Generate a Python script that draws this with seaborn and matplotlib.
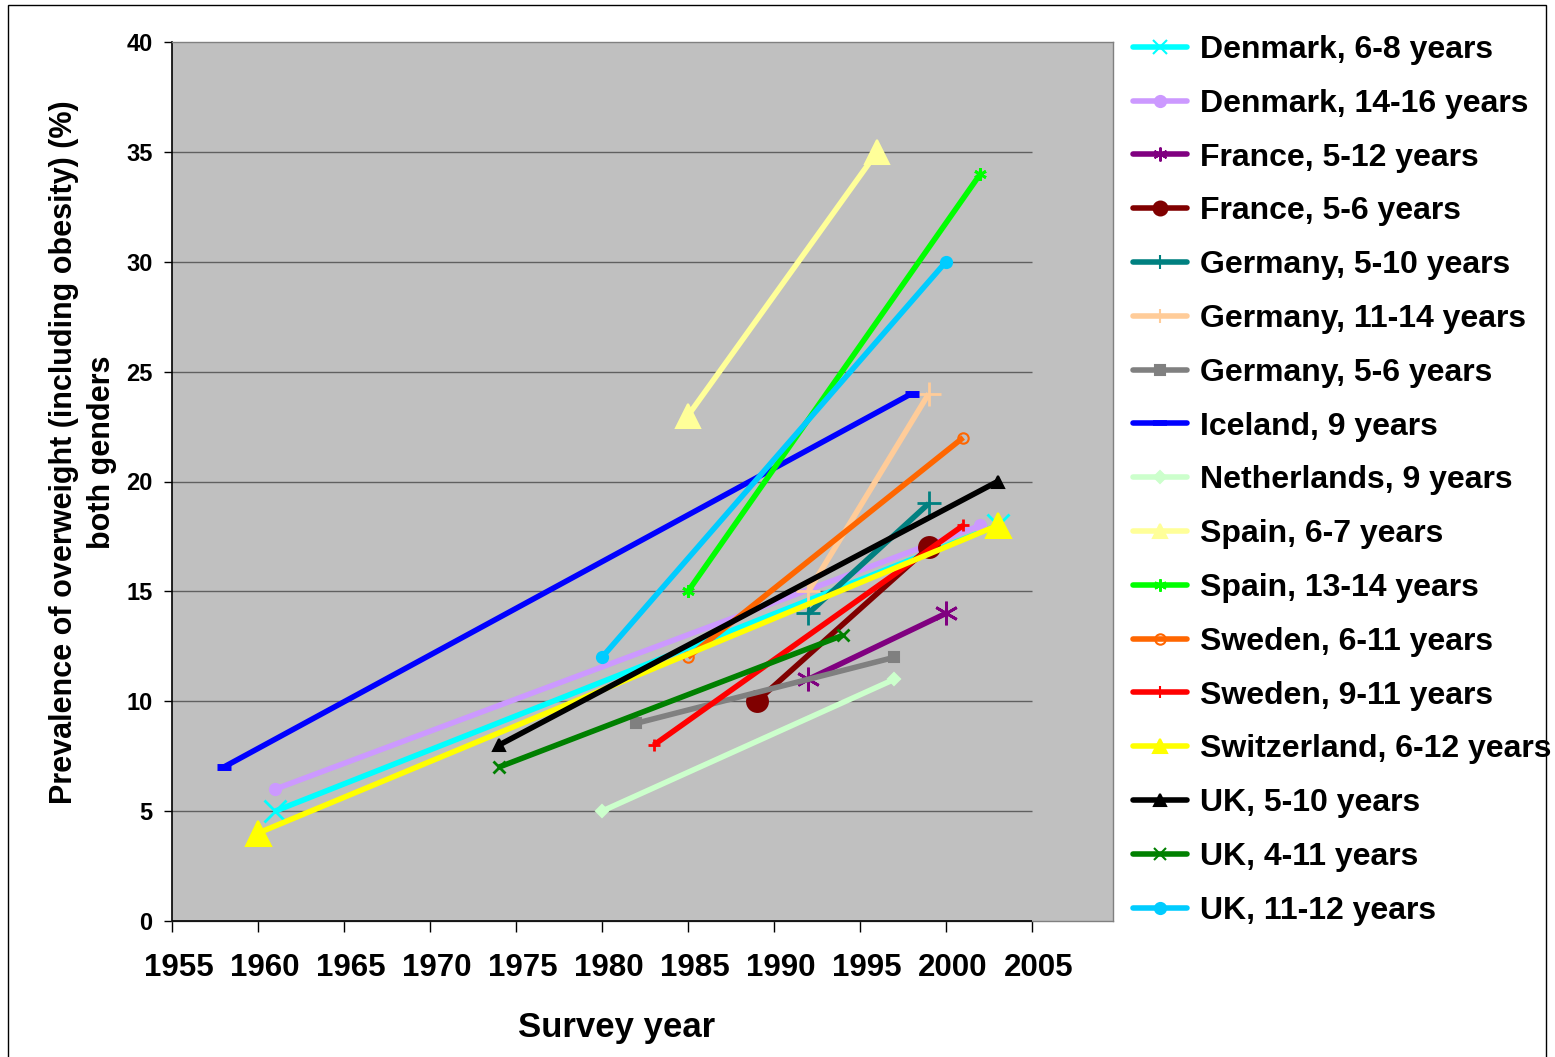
import matplotlib
matplotlib.use("Agg")
import matplotlib.pyplot as plt
from matplotlib import font_manager
from matplotlib.lines import Line2D
from matplotlib.patches import Rectangle
from matplotlib.transforms import ScaledTranslation
import numpy as np
import pandas as pd
import seaborn as sns

# Survey series: label, survey years and prevalence (%) at each survey
labels = [
    "Denmark, 6-8 years", "Denmark, 14-16 years", "France, 5-12 years",
    "France, 5-6 years", "Germany, 5-10 years", "Germany, 11-14 years",
    "Germany, 5-6 years", "Iceland, 9 years", "Netherlands, 9 years",
    "Spain, 6-7 years", "Spain, 13-14 years", "Sweden, 6-11 years",
    "Sweden, 9-11 years", "Switzerland, 6-12 years", "UK, 5-10 years",
    "UK, 4-11 years", "UK, 11-12 years",
]
survey_years = [
    [1961, 2003], [1961, 2002], [1992, 2000], [1989, 1999], [1992, 1999],
    [1992, 1999], [1982, 1997], [1958, 1998], [1980, 1997], [1985, 1996],
    [1985, 2002], [1985, 2001], [1983, 2001], [1960, 2003], [1974, 2003],
    [1974, 1994], [1980, 2000],
]
prevalence = [
    [5, 18], [6, 18], [11, 14], [10, 17], [14, 19],
    [15, 24], [9, 12], [7, 24], [5, 11], [23, 35],
    [15, 34], [12, 22], [8, 18], [4, 18], [8, 20],
    [7, 13], [12, 30],
]
y_ticks = [0, 5, 10, 15, 20, 25, 30, 35, 40]
x_ticks = [1955, 1960, 1965, 1970, 1975, 1980, 1985, 1990, 1995, 2000, 2005]

colors = ["#00FFFF", "#CC99FF", "#800080", "#800000", "#008080", "#FFCC99",
          "#808080", "#0000FF", "#CCFFCC", "#FFFF99", "#00FF00", "#FF6600",
          "#FF0000", "#FFFF00", "#000000", "#008000", "#00CCFF"]
asterisk = (6, 2, 0)
markers = ["x", "o", asterisk, "o", "+", "+", "s", "_", "D", "^", asterisk,
           "o", "+", "^", "^", "x", "o"]
msizes = [16, 8, 17, 15, 17, 17, 7, 10, 6, 17, 9, 7.5, 9, 18, 9, 9, 8]
filled = [True] * 17
filled[11] = False

sns.set_theme(style="white")
names = {f.name for f in font_manager.fontManager.ttflist}
narrow = "Liberation Sans Narrow" if "Liberation Sans Narrow" in names else "Liberation Sans"
plt.rcParams["font.family"] = ["Liberation Sans", "DejaVu Sans"]
plt.rcParams["text.color"] = "black"
plt.rcParams["xtick.color"] = "black"
plt.rcParams["ytick.color"] = "black"
plt.rcParams["axes.labelcolor"] = "black"

rows = []
for lab, yrs, vals in zip(labels, survey_years, prevalence):
    for yr, v in zip(yrs, vals):
        rows.append({"series": lab, "year": yr, "value": v})
df = pd.DataFrame(rows)

W, H = 1555, 1057
fig = plt.figure(figsize=(W / 100, H / 100), dpi=100)
ax = fig.add_axes([172 / W, 1 - 921 / H, (1113 - 172) / W, (921 - 42) / H])
ax.set_facecolor("#C0C0C0")

x_end = 1955 + (1113 - 172) / 17.2
ax.set_xlim(1955, x_end)
ax.set_ylim(0, 40)

# horizontal gridlines stop at the last year tick
ax.hlines(y_ticks[1:-1], 1955, 2005, color="#606060", linewidth=1.0, zorder=0.5)

for i, lab in enumerate(labels):
    sub = df[df["series"] == lab]
    sns.lineplot(
        data=sub, x="year", y="value", ax=ax, color=colors[i],
        linewidth=4, marker=markers[i], markersize=msizes[i],
        markeredgewidth=2 if markers[i] in ("x", "+", asterisk) else 1.5,
        markerfacecolor=colors[i] if filled[i] else "none",
        markeredgecolor=colors[i], legend=False, errorbar=None,
        solid_capstyle="butt", zorder=2 + i,
    )
    if markers[i] == "_":
        ax.lines[-1].set_markeredgewidth(5)

for side in ["top", "right", "bottom"]:
    ax.spines[side].set_color("#808080")
    ax.spines[side].set_linewidth(1)
ax.spines["left"].set_color("black")
ax.spines["left"].set_linewidth(1.2)
ax.hlines(0, 1955, 2005, color="black", linewidth=1.2, clip_on=False, zorder=20)

ax.set_xticks(x_ticks)
ax.set_yticks(y_ticks)
ax.tick_params(axis="x", direction="out", length=8, width=1, color="black",
               labelcolor="black", bottom=True, pad=15, labelsize=22.5)
ax.tick_params(axis="y", direction="out", length=6, width=1, color="black",
               labelcolor="black", left=True, pad=8, labelsize=17)
shift = ScaledTranslation(0.07, 0, fig.dpi_scale_trans)
for t in ax.get_xticklabels():
    t.set_fontweight("bold")
    t.set_transform(t.get_transform() + shift)
for t in ax.get_yticklabels():
    t.set_fontweight("bold")
    t.set_family([narrow, "DejaVu Sans"])

ax.set_xlabel("")
ax.set_ylabel("")
fig.text(617 / W, 1 - 1027 / H, "Survey year", ha="center", va="center",
         fontsize=25, fontweight="bold", family=[narrow, "DejaVu Sans"])
fig.text(83 / W, 1 - 452 / H,
         "Prevalence of overweight (including obesity) (%)\nboth genders",
         ha="center", va="center", rotation=90, fontsize=22,
         fontweight="bold", linespacing=1.38, family=[narrow, "DejaVu Sans"])

handles = []
for i, lab in enumerate(labels):
    handles.append(Line2D(
        [], [], color=colors[i], linewidth=4, marker=markers[i],
        markersize=min(msizes[i], 10),
        markeredgewidth=1.5 if markers[i] != "_" else 4,
        markerfacecolor=colors[i] if filled[i] else "none",
        markeredgecolor=colors[i], label=lab))
fig.legend(handles=handles, loc="upper left",
           bbox_to_anchor=(1133 / W, 1 - 35 / H), frameon=False,
           borderpad=0, borderaxespad=0, handlelength=1.7,
           handletextpad=0.4, labelspacing=0.745,
           prop={"family": "Liberation Sans", "weight": "bold", "size": 23})

fig.add_artist(Rectangle((8 / W, -0.01), (1546 - 8) / W, 1.01 - 5 / H,
                         transform=fig.transFigure, fill=False,
                         edgecolor="black", linewidth=1))

fig.savefig("out.png", dpi=100, facecolor="white")
